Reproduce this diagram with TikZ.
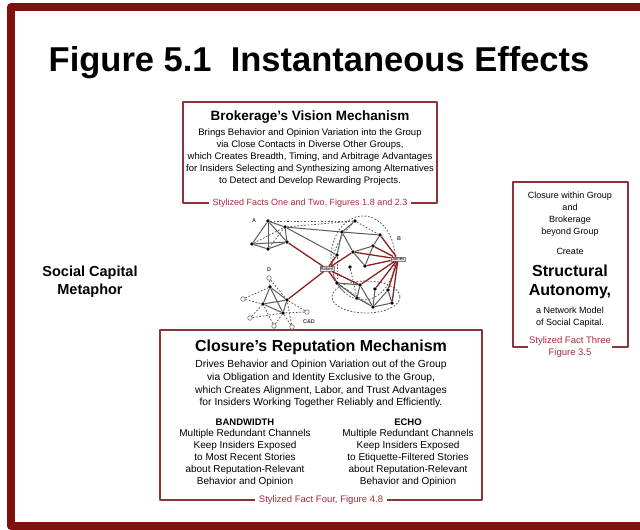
\documentclass[tikz,border=0pt]{standalone}
\usepackage{fontspec}
\setmainfont{Liberation Sans}
\usetikzlibrary{positioning}
\definecolor{framered}{RGB}{128,16,12}
\definecolor{boxred}{RGB}{140,52,56}
\definecolor{citered}{RGB}{168,42,62}
\definecolor{netgray}{RGB}{90,90,90}
\definecolor{tiered}{RGB}{140,32,32}
\begin{document}
\begin{tikzpicture}[
        x=1pt, y=-1pt,
        line join=round,
        box line/.style={draw=boxred, line width=1.2pt},
        heading/.style={font=\bfseries\fontsize{13.5}{16}\selectfont},
        body text/.style={align=center, inner sep=0pt, font=\fontsize{9.5}{12}\selectfont},
        cite text/.style={align=center, text=citered, fill=white, inner xsep=4pt, inner ysep=1pt, font=\fontsize{9}{11.5}\selectfont},
        dot/.style={circle, fill=black, inner sep=0pt, minimum size=3.8pt},
        open dot/.style={circle, draw=gray, fill=white, inner sep=0pt, minimum size=4.5pt, line width=0.7pt},
        strong tie/.style={draw=netgray, line width=1pt},
        weak tie/.style={draw=netgray, dash pattern=on 1.7pt off 1.7pt, line width=0.8pt},
        bridge tie/.style={draw=tiered, line width=1.3pt},
        person/.style={draw=gray, fill=gray!15, inner sep=0.8pt, font=\fontsize{4.3}{5}\selectfont},
        net label/.style={inner sep=0pt, text=darkgray, font=\bfseries\fontsize{5.5}{6}\selectfont},
    ]

    \useasboundingbox (0,0) rectangle (640,530);
    \clip (0,0) rectangle (640,530);

    % Khung ngoài
    \draw[framered, line width=8pt] (11,7) rectangle (652,526);

    % Tiêu đề
    \node[font=\bfseries\fontsize{34.5}{40}\selectfont] (title) at (319,63) {Figure 5.1\ \ Instantaneous Effects};

    % Hộp trên: brokerage
    \draw[box line] (183,102) rectangle (437,203);
    \node[heading] (vision head) at (310,117) {Brokerage's Vision Mechanism};
    \node[body text] (vision body) at (310,157) {Brings Behavior and Opinion Variation into the Group\\
        via Close Contacts in Diverse Other Groups,\\
        which Creates Breadth, Timing, and Arbitrage Advantages\\
        for Insiders Selecting and Synthesizing among Alternatives\\
        to Detect and Develop Rewarding Projects.};
    \node[cite text] (vision cite) at (310,203) {Stylized Facts One and Two, Figures 1.8 and 2.3};

    % Nhãn bên trái
    \node[align=center, font=\bfseries\fontsize{14.5}{18}\selectfont] (metaphor) at (90,282) {Social Capital\\Metaphor};

    % Hộp phải: structural autonomy
    \draw[box line] (513,182) rectangle (628,347);
    \node[body text, font=\fontsize{9}{12}\selectfont] (autonomy cause) at (570,214) {Closure within Group\\and\\Brokerage\\beyond Group};
    \node[body text, font=\fontsize{9}{12}\selectfont] (autonomy verb) at (570,251) {Create};
    \node[body text, font=\bfseries\fontsize{16}{19.5}\selectfont] (autonomy head) at (570,282) {Structural\\Autonomy,};
    \node[body text, font=\fontsize{9}{12}\selectfont] (autonomy model) at (570,317) {a Network Model\\of Social Capital.};
    \node[cite text, inner xsep=1pt, font=\fontsize{9.5}{12}\selectfont] (autonomy cite) at (570,347) {Stylized Fact Three\\Figure 3.5};

    % Hộp dưới: closure
    \draw[box line] (160,330) rectangle (482,500);
    \node[heading, font=\bfseries\fontsize{16}{19}\selectfont] (reputation head) at (321,347) {Closure's Reputation Mechanism};
    \node[body text, font=\fontsize{10.3}{12.7}\selectfont] (reputation body) at (321,384) {Drives Behavior and Opinion Variation out of the Group\\
        via Obligation and Identity Exclusive to the Group,\\
        which Creates Alignment, Labor, and Trust Advantages\\
        for Insiders Working Together Reliably and Efficiently.};
    \node[body text, font=\bfseries\fontsize{9.5}{12}\selectfont] (bandwidth head) at (245,422) {BANDWIDTH};
    \node[body text, font=\fontsize{10}{12.2}\selectfont] (bandwidth body) at (245,458) {Multiple Redundant Channels\\
        Keep Insiders Exposed\\
        to Most Recent Stories\\
        about Reputation-Relevant\\
        Behavior and Opinion};
    \node[body text, font=\bfseries\fontsize{9.5}{12}\selectfont] (echo head) at (408,422) {ECHO};
    \node[body text, font=\fontsize{10}{12.2}\selectfont] (echo body) at (408,458) {Multiple Redundant Channels\\
        Keep Insiders Exposed\\
        to Etiquette-Filtered Stories\\
        about Reputation-Relevant\\
        Behavior and Opinion};
    \node[cite text, font=\fontsize{9.5}{12}\selectfont] (reputation cite) at (321,500) {Stylized Fact Four, Figure 4.8};

    % Mạng lưới: vòng nét đứt quanh nhóm B
    \draw[weak tie] (363,258) ellipse [x radius=32, y radius=42];
    \draw[weak tie] (366,297) ellipse [x radius=34, y radius=16];
    \draw[weak tie] (352,224) .. controls (328,250) and (326,276) .. (345,293);

    % Các nút đen
    \foreach \name/\x/\y in {a1/268/221, a2/285/227, a3/252/244, a4/268/249, a5/287/242,
            b1/355/221, b2/342/232, b3/380/235, b4/373/246, b5/353/252, b6/337/255,
            b7/365/266, b8/350/267, b9/337/283, b10/360/285, b11/375/289, b12/388/290,
            b13/357/298, b14/373/307, b15/392/303,
            c1/270/287, c2/287/300, c3/263/304, c4/283/313} {
        \node[dot] (\name) at (\x,\y) {};
    }
    % Các nút rỗng
    \foreach \name/\x/\y in {o1/269/278, o2/243/299, o3/250/318, o4/307/312, o5/274/326, o6/292/327} {
        \node[open dot] (\name) at (\x,\y) {};
    }
    \node[person] (robert) at (327,269) {Robert};
    \node[person] (james) at (398,259) {James};

    % Nhãn nhóm
    \node[net label] (label A) at (254,221) {A};
    \node[net label] (label B) at (399,239) {B};
    \node[net label] (label D) at (269,270) {D};
    \node[net label] (label CD) at (309,322) {C\&D};

    % Quan hệ mạnh
    \foreach \u/\v in {a1/a2, a1/a3, a1/a4, a1/a5, a2/a5, a3/a4, a4/a5, a3/a5, a2/b2, a2/b6,
            b2/b3, b2/b5, b2/b6, b3/b4, b4/b5, b5/b7, b4/b7, b1/b2,
            b9/b13, b10/b13, b10/b14, b11/b14, b12/b14, b13/b14, b14/b15, b9/b10, b12/b15,
            c1/c2, c1/c3, c1/c4, c2/c3, c2/c4, c3/c4} {
        \draw[strong tie] (\u) -- (\v);
    }
    % Quan hệ yếu
    \foreach \u/\v in {a1/b1, a2/b1, a3/a2, a4/a2, b1/b3, b3/james, b6/b9, b9/b14, b8/b13,
            o1/c1, o1/c2, o2/c1, o2/c3, o3/c3, o3/c4, o4/c2, o4/c4, o5/c3, o5/c4, o6/c4, o6/c2} {
        \draw[weak tie] (\u) -- (\v);
    }
    % Cầu nối qua lỗ cấu trúc
    \foreach \u/\v in {a5/robert, robert/c2, robert/b6, robert/b5, robert/b9, robert/b10,
            james/b3, james/b4, james/b5, james/b7, james/b10, james/b11, james/b12, james/b15} {
        \draw[bridge tie] (\u) -- (\v);
    }

\end{tikzpicture}
\end{document}
